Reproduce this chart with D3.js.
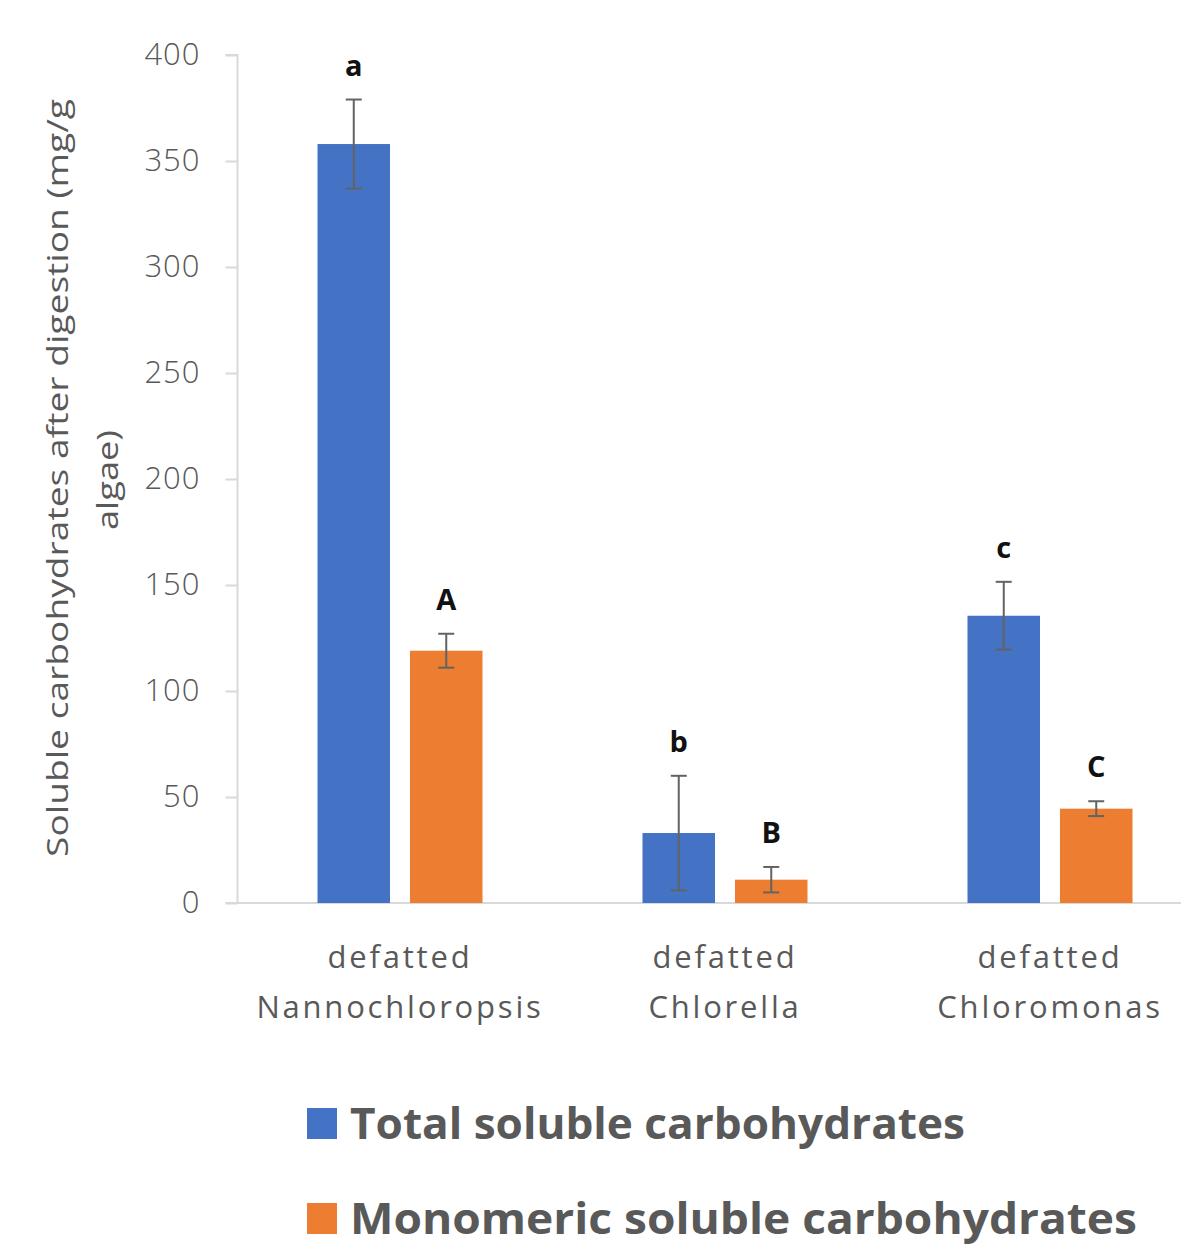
<!DOCTYPE html>
<html><head><meta charset="utf-8">
<script src="https://cdn.jsdelivr.net/npm/d3@7"></script>
<style>body{margin:0;background:#fff}svg{display:block}</style>
</head><body><svg id="c" width="1181" height="1245"></svg>
<script>
const categories = [["defatted","Nannochloropsis"],["defatted","Chlorella"],["defatted","Chloromonas"]];
const seriesNames = ["Total soluble carbohydrates","Monomeric soluble carbohydrates"];
const totalValues = [358, 33, 135.5];
const totalErrors = [21, 27, 16];
const monoValues = [119, 11, 44.5];
const monoErrors = [8, 6, 3.5];
const totalLetters = ["a","b","c"];
const monoLetters = ["A","B","C"];
const yTicks = [0,50,100,150,200,250,300,350,400];
const colors = ["#4472C4","#ED7D31"];

(function(){
const svg = d3.select("#c");
const pl = 237.5, pr = 1212.5, pt = 55, pb = 903;
const x = d3.scaleBand().domain(d3.range(categories.length)).range([pl,pr]).paddingInner(0).paddingOuter(0);
const xs = d3.scaleBand().domain([0,1]).range([0,165]).paddingInner(0.216);
const y = d3.scaleLinear().domain([0,400]).range([pb,pt]);
const gray = "#595959";
const font = "'Open Sans', 'Noto Sans', sans-serif";

// y axis
const ya = svg.append("g").attr("transform",`translate(${pl},0)`)
  .call(d3.axisLeft(y).tickValues(yTicks).tickSize(12).tickPadding(10));
ya.select(".domain").attr("stroke","#d9d9d9").attr("stroke-width",2).attr("d",`M-12,${pt}H0V${pb}`);
ya.selectAll(".tick line").attr("stroke","#d9d9d9").attr("stroke-width",2);
ya.selectAll(".tick text").attr("fill",gray).attr("font-size",31).attr("font-family",font).attr("font-weight",300)
  .attr("x",-37).attr("letter-spacing",1);

// baseline
svg.append("line").attr("x1",pl-12).attr("x2",pr).attr("y1",y(0)).attr("y2",y(0)).attr("stroke","#d9d9d9").attr("stroke-width",2);

const data = [
  {vals: totalValues, errs: totalErrors, letters: totalLetters},
  {vals: monoValues, errs: monoErrors, letters: monoLetters}
];
data.forEach((s,si)=>{
  const g = svg.append("g");
  const off = -82.5;
  categories.forEach((c,i)=>{
    const bx = x(i) + x.bandwidth()/2 + off + xs(si);
    const bw = xs.bandwidth();
    g.append("rect").attr("x",bx).attr("y",y(s.vals[i])).attr("width",bw).attr("height",y(0)-y(s.vals[i])).attr("fill",colors[si]);
    const cx = bx + bw/2;
    const hi = y(s.vals[i]+s.errs[i]), lo = y(s.vals[i]-s.errs[i]);
    g.append("line").attr("x1",cx).attr("x2",cx).attr("y1",hi).attr("y2",lo).attr("stroke","#636363").attr("stroke-width",2);
    [hi,lo].forEach(v=>g.append("line").attr("x1",cx-8).attr("x2",cx+8).attr("y1",v).attr("y2",v).attr("stroke","#636363").attr("stroke-width",2));
    g.append("text").attr("x",cx).attr("y",hi-24).attr("text-anchor","middle").attr("font-family",font).attr("font-weight",700)
      .attr("font-size",29).attr("fill","#111").text(s.letters[i]);
  });
});

// x labels
categories.forEach((c,i)=>{
  const cx = x(i)+x.bandwidth()/2;
  c.forEach((t,j)=>{
    svg.append("text").attr("x",cx).attr("y",968+j*50).attr("text-anchor","middle").attr("font-family",font)
      .attr("font-size",31).attr("font-weight",500).attr("fill",gray).attr("letter-spacing",2.8).text(t);
  });
});

// y title
svg.append("text").attr("transform",`translate(68,478) rotate(-90)`).attr("text-anchor","middle").attr("font-family",font)
  .attr("font-size",30).attr("fill",gray).attr("textLength",758).attr("lengthAdjust","spacingAndGlyphs").text("Soluble  carbohydrates after digestion (mg/g");
svg.append("text").attr("transform",`translate(118,480) rotate(-90)`).attr("text-anchor","middle").attr("font-family",font)
  .attr("font-size",30).attr("fill",gray).attr("textLength",100).attr("lengthAdjust","spacingAndGlyphs").text("algae)");

// legend
const legW = [615, 787];
seriesNames.forEach((n,i)=>{
  const ly = 1124 + i*95;
  svg.append("rect").attr("x",307).attr("y",ly-16).attr("width",30).attr("height",31).attr("fill",colors[i]);
  svg.append("text").attr("x",350).attr("y",ly+15).attr("font-family",font).attr("font-weight",700).attr("font-size",43)
    .attr("fill",gray).attr("textLength",legW[i]).attr("lengthAdjust","spacingAndGlyphs").text(n);
});
})();
</script></body></html>
